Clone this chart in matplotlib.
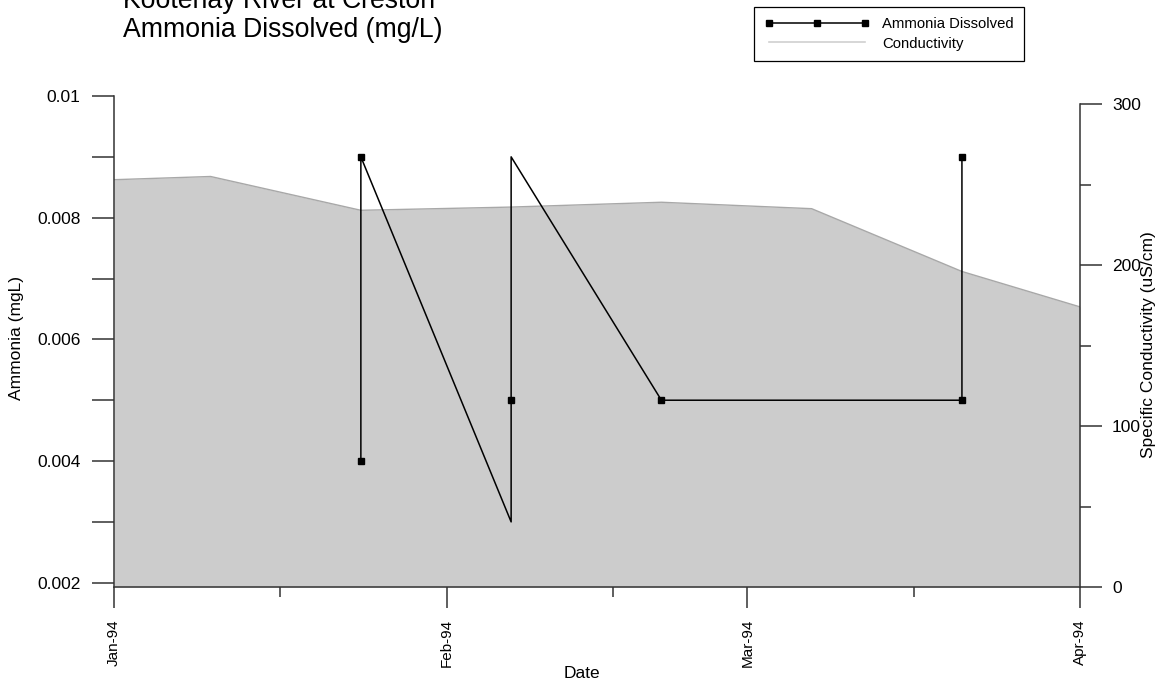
import numpy as np
import matplotlib
matplotlib.use("Agg")
import matplotlib.pyplot as plt
import matplotlib.dates as mdates
from matplotlib.lines import Line2D

plt.rcParams['font.family'] = ['Liberation Sans', 'DejaVu Sans']

# Ammonia samples (path order as drawn), markers only on real samples
amm_dates = np.array(['1994-01-24', '1994-01-24', '1994-02-07', '1994-02-07', '1994-02-07',
                      '1994-02-21', '1994-03-21', '1994-03-21'], dtype='datetime64[D]')
amm_values = [0.004, 0.009, 0.003, 0.005, 0.009, 0.005, 0.005, 0.009]
amm_marked = [0, 1, 3, 5, 6, 7]

# Conductivity (uS/cm)
cond_dates = np.array(['1994-01-01', '1994-01-10', '1994-01-24', '1994-02-07', '1994-02-21',
                       '1994-03-07', '1994-03-21', '1994-04-01'], dtype='datetime64[D]')
cond_values = [253, 255, 234, 236, 239, 235, 196, 174]

month_starts = np.array(['1994-01-01', '1994-02-01', '1994-03-01', '1994-04-01'], dtype='datetime64[D]')

fig = plt.figure(figsize=(11.65, 6.83), dpi=100)
ax = fig.add_axes([114 / 1165, 1 - 587 / 683, 966 / 1165, 491 / 683])
ax2 = ax.twinx()

# conductivity area underneath
ax2.fill_between(cond_dates, cond_values, 0, color='#cccccc', lw=0)
ax2.plot(cond_dates, cond_values, color='#a8a8a8', lw=1)
ax2.set_ylim(0, 305)
ax2.set_yticks([0, 100, 200, 300])
ax2.set_yticks([50, 150, 250], minor=True)

ax.set_zorder(ax2.get_zorder() + 1)
ax.patch.set_visible(False)
ax.plot(amm_dates, amm_values, color='black', lw=1.1, marker='s', ms=5,
        markevery=amm_marked)
ax.set_ylim(0.00193, 0.01)
ax.set_yticks([0.002, 0.004, 0.006, 0.008, 0.01])
ax.set_yticklabels(['0.002', '0.004', '0.006', '0.008', '0.01'])
ax.set_yticks([0.003, 0.005, 0.007, 0.009], minor=True)

ax.set_xlim(month_starts[0], month_starts[-1])
ax.set_xticks(month_starts)
ax.set_xticks(mdates.date2num(month_starts[:-1]) + 15.5, minor=True)
ax.xaxis.set_major_formatter(mdates.DateFormatter('%b-%y'))

spine_col = '#333333'
for s in ['top', 'right']:
    ax.spines[s].set_visible(False)
for s in ['top', 'left', 'bottom']:
    ax2.spines[s].set_visible(False)
for sp in [ax.spines['left'], ax.spines['bottom'], ax2.spines['right']]:
    sp.set_color(spine_col)
    sp.set_linewidth(1.1)
ax2.spines['right'].set_bounds(0, 300)

ax.tick_params(axis='y', which='both', direction='out', length=16, width=1.1,
               color=spine_col, pad=8, labelsize=12.5)
ax.tick_params(axis='x', which='major', direction='out', length=15, width=1.1,
               color=spine_col, pad=8, labelsize=11, labelrotation=90)
ax.tick_params(axis='x', which='minor', direction='out', length=7.5, width=1.1,
               color=spine_col)
ax2.tick_params(axis='y', which='major', direction='out', length=16, width=1.1,
                color=spine_col, pad=7, labelsize=12.5)
ax2.tick_params(axis='y', which='minor', direction='out', length=8, width=1.1,
                color=spine_col)

fig.text(582 / 1165, 1 - 673 / 683, 'Date', ha='center', va='center', fontsize=12.5)
fig.text(17 / 1165, 1 - 338 / 683, 'Ammonia (mgL)', ha='center', va='center',
         rotation=90, fontsize=12.5)
fig.text(1149 / 1165, 1 - 345 / 683, 'Specific Conductivity (uS/cm)', ha='center',
         va='center', rotation=90, fontsize=12.5)

fig.text(123 / 1165, 1 - 8 / 683, 'Kootenay River at Creston', ha='left',
         va='baseline', fontsize=19.2)
fig.text(123 / 1165, 1 - 37 / 683, 'Ammonia Dissolved (mg/L)', ha='left',
         va='baseline', fontsize=19.2)

handles = [Line2D([], [], color='black', lw=1.1, marker='s', ms=4.5),
           Line2D([], [], color='#d0d0d0', lw=1.2)]
leg = fig.legend(handles, ['Ammonia Dissolved', 'Conductivity'], loc='upper left',
                 bbox_to_anchor=(754 / 1165, 1 - 7 / 683), numpoints=3,
                 handlelength=7.05, fontsize=10.7, fancybox=False, framealpha=1,
                 edgecolor='black', borderaxespad=0, borderpad=0.7,
                 labelspacing=0.35, handletextpad=0.87)
leg.get_frame().set_linewidth(0.9)

fig.savefig('out.png', dpi=100)
